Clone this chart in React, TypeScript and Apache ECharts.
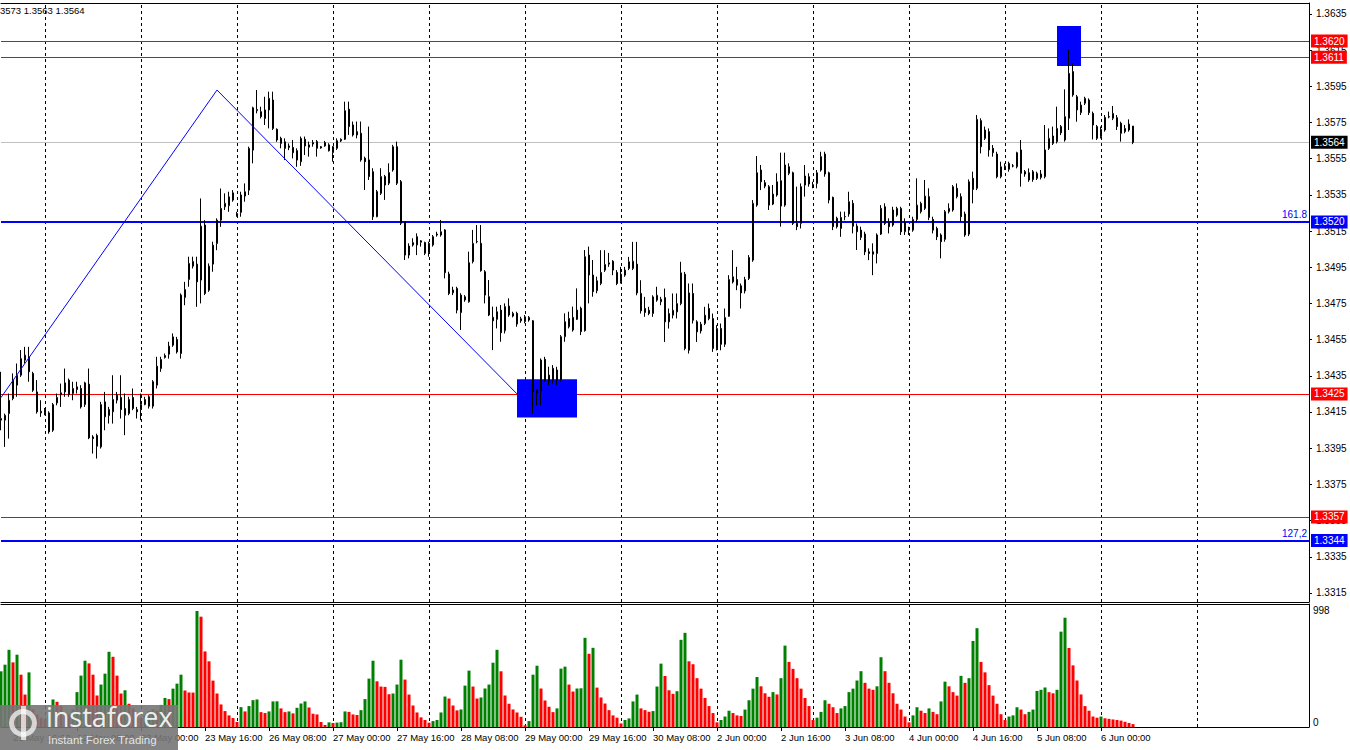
import React, { useEffect, useRef } from "react";
import * as echarts from "echarts";

// ---------- time axis ----------
const sessions: [string, number, number][] = [
  ["21 May", 13, 23], ["22 May", 0, 23], ["23 May", 0, 23], ["26 May", 0, 23], ["27 May", 0, 23],
  ["28 May", 0, 23], ["29 May", 0, 23], ["30 May", 0, 23], ["2 Jun", 0, 23], ["3 Jun", 0, 23],
  ["4 Jun", 0, 23], ["5 Jun", 0, 23], ["6 Jun", 0, 8],
];
const futureSessions: [string, number, number][] = [["6 Jun", 9, 23], ["9 Jun", 0, 23], ["10 Jun", 0, 4]];

const xTickLabels = [
  "21 May 16:00", "22 May 08:00", "23 May 00:00", "23 May 16:00", "26 May 08:00", "27 May 00:00",
  "27 May 16:00", "28 May 08:00", "29 May 00:00", "29 May 16:00", "30 May 08:00", "2 Jun 00:00",
  "2 Jun 16:00", "3 Jun 08:00", "4 Jun 00:00", "4 Jun 16:00", "5 Jun 08:00", "6 Jun 00:00",
];
const dayStartLines = [
  "22 May 00:00", "23 May 00:00", "26 May 00:00", "27 May 00:00", "28 May 00:00", "29 May 00:00",
  "30 May 00:00", "2 Jun 00:00", "3 Jun 00:00", "4 Jun 00:00", "5 Jun 00:00", "6 Jun 00:00", "9 Jun 00:00",
];

// ---------- price data: [open, high, low, close] ----------
const candles: number[][] = [
[1.34105,1.34372,1.34049,1.34114],[1.34105,1.34141,1.33957,1.34132],[1.34141,1.34252,1.34003,1.34215],
[1.34224,1.34363,1.34215,1.34326],[1.34298,1.34418,1.34234,1.34353],[1.34353,1.34492,1.34344,1.34445],
[1.34436,1.34510,1.34418,1.34464],[1.34455,1.34510,1.34317,1.34372],[1.34363,1.34372,1.34261,1.34270],
[1.34261,1.34326,1.34141,1.34151],[1.34145,1.34215,1.34123,1.34154],[1.34163,1.34172,1.34132,1.34145],
[1.34145,1.34154,1.34030,1.34040],[1.34049,1.34200,1.34040,1.34191],[1.34200,1.34252,1.34187,1.34230],
[1.34245,1.34307,1.34178,1.34256],[1.34261,1.34390,1.34234,1.34311],[1.34326,1.34335,1.34234,1.34246],
[1.34252,1.34317,1.34215,1.34280],[1.34274,1.34317,1.34252,1.34289],[1.34280,1.34298,1.34169,1.34178],
[1.34191,1.34317,1.34178,1.34311],[1.34304,1.34390,1.34000,1.34007],[1.34012,1.34022,1.33920,1.34003],
[1.34020,1.34030,1.33893,1.33961],[1.33957,1.34206,1.33948,1.34191],[1.34123,1.34261,1.34049,1.34206],
[1.34130,1.34178,1.34086,1.34164],[1.34151,1.34353,1.34086,1.34219],[1.34215,1.34261,1.34197,1.34243],
[1.34230,1.34353,1.34114,1.34163],[1.34169,1.34252,1.34022,1.34132],[1.34141,1.34234,1.34132,1.34219],
[1.34230,1.34280,1.34160,1.34169],[1.34163,1.34178,1.34114,1.34151],[1.34163,1.34252,1.34105,1.34191],
[1.34191,1.34234,1.34187,1.34219],[1.34234,1.34243,1.34169,1.34182],[1.34182,1.34326,1.34169,1.34317],
[1.34298,1.34455,1.34280,1.34403],[1.34390,1.34455,1.34372,1.34440],[1.34451,1.34473,1.34445,1.34462],
[1.34469,1.34538,1.34445,1.34514],[1.34519,1.34584,1.34510,1.34565],[1.34551,1.34565,1.34473,1.34482],
[1.34473,1.34805,1.34445,1.34796],[1.34783,1.34869,1.34740,1.34827],[1.34882,1.35008,1.34842,1.34971],
[1.34956,1.35008,1.34943,1.34982],[1.34967,1.35008,1.34731,1.34869],[1.34879,1.35330,1.34750,1.35177],
[1.35183,1.35210,1.34796,1.34805],[1.34823,1.34971,1.34814,1.34956],[1.34967,1.35091,1.34925,1.35072],
[1.35081,1.35220,1.35044,1.35210],[1.35210,1.35385,1.35173,1.35275],[1.35284,1.35358,1.35266,1.35303],
[1.35290,1.35367,1.35256,1.35339],[1.35321,1.35376,1.35312,1.35361],[1.35238,1.35256,1.35229,1.35247],
[1.35253,1.35367,1.35229,1.35349],[1.35343,1.35413,1.35312,1.35367],[1.35376,1.35616,1.35349,1.35607],
[1.35597,1.35837,1.35524,1.35831],[1.35815,1.35929,1.35800,1.35822],[1.35809,1.35837,1.35772,1.35782],
[1.35772,1.35892,1.35736,1.35819],[1.35819,1.35920,1.35717,1.35883],[1.35874,1.35920,1.35708,1.35717],
[1.35712,1.35717,1.35643,1.35653],[1.35662,1.35671,1.35607,1.35634],[1.35643,1.35662,1.35542,1.35607],
[1.35620,1.35634,1.35597,1.35612],[1.35612,1.35653,1.35551,1.35583],[1.35594,1.35607,1.35505,1.35542],
[1.35533,1.35672,1.35510,1.35662],[1.35657,1.35672,1.35570,1.35620],[1.35613,1.35644,1.35561,1.35626],
[1.35631,1.35653,1.35616,1.35639],[1.35644,1.35653,1.35561,1.35607],[1.35609,1.35620,1.35605,1.35616],
[1.35620,1.35648,1.35616,1.35639],[1.35626,1.35635,1.35589,1.35594],[1.35583,1.35620,1.35533,1.35616],
[1.35607,1.35662,1.35598,1.35649],[1.35648,1.35662,1.35642,1.35657],[1.35657,1.35865,1.35653,1.35815],
[1.35823,1.35865,1.35681,1.35727],[1.35736,1.35755,1.35672,1.35681],[1.35699,1.35755,1.35662,1.35681],
[1.35690,1.35755,1.35533,1.35543],[1.35552,1.35561,1.35377,1.35533],[1.35543,1.35727,1.35432,1.35451],
[1.35478,1.35497,1.35211,1.35229],[1.35229,1.35377,1.35226,1.35368],[1.35358,1.35497,1.35349,1.35451],
[1.35451,1.35460,1.35322,1.35404],[1.35414,1.35524,1.35404,1.35473],[1.35487,1.35626,1.35478,1.35616],
[1.35616,1.35644,1.35404,1.35414],[1.35423,1.35432,1.35183,1.35193],[1.35202,1.35202,1.34990,1.35017],
[1.35017,1.35082,1.34999,1.35067],[1.35073,1.35110,1.35064,1.35086],[1.35073,1.35137,1.35017,1.35119],
[1.35088,1.35100,1.35064,1.35096],[1.35086,1.35091,1.35017,1.35027],[1.35030,1.35091,1.35008,1.35082],
[1.35073,1.35128,1.35064,1.35119],[1.35128,1.35146,1.35119,1.35133],[1.35128,1.35211,1.35119,1.35146],
[1.35156,1.35160,1.34888,1.34920],[1.34912,1.34925,1.34796,1.34805],[1.34824,1.34842,1.34796,1.34809],
[1.34833,1.34842,1.34695,1.34713],[1.34699,1.34806,1.34603,1.34796],[1.34769,1.34796,1.34759,1.34787],
[1.34759,1.35036,1.34754,1.34975],[1.34981,1.35156,1.34971,1.35082],[1.35091,1.35183,1.35082,1.35092],
[1.35082,1.35183,1.34925,1.34931],[1.34925,1.34934,1.34750,1.34796],[1.34787,1.34879,1.34680,1.34686],
[1.34673,1.34732,1.34492,1.34654],[1.34662,1.34732,1.34612,1.34704],[1.34713,1.34741,1.34538,1.34588],
[1.34599,1.34750,1.34584,1.34732],[1.34735,1.34778,1.34676,1.34686],[1.34680,1.34704,1.34673,1.34695],
[1.34695,1.34704,1.34621,1.34636],[1.34654,1.34676,1.34643,1.34665],[1.34649,1.34686,1.34640,1.34676],
[1.34658,1.34680,1.34649,1.34673],[1.34654,1.34658,1.34142,1.34262],[1.34253,1.34275,1.34188,1.34275],
[1.34262,1.34446,1.34188,1.34437],[1.34441,1.34455,1.34317,1.34326],[1.34317,1.34400,1.34299,1.34354],
[1.34391,1.34409,1.34308,1.34326],[1.34382,1.34400,1.34299,1.34326],[1.34326,1.34575,1.34317,1.34566],
[1.34566,1.34695,1.34538,1.34649],[1.34621,1.34704,1.34612,1.34667],[1.34603,1.34732,1.34594,1.34673],
[1.34662,1.34833,1.34658,1.34713],[1.34723,1.34732,1.34575,1.34594],[1.34599,1.35045,1.34594,1.35008],
[1.35017,1.35064,1.34750,1.34907],[1.34907,1.34990,1.34787,1.34815],[1.34820,1.34898,1.34806,1.34875],
[1.34860,1.35044,1.34851,1.34921],[1.34934,1.35044,1.34924,1.34965],[1.34967,1.35029,1.34952,1.34974],
[1.34983,1.34989,1.34906,1.34934],[1.34921,1.34934,1.34851,1.34860],[1.34869,1.34952,1.34860,1.34912],
[1.34906,1.34952,1.34897,1.34934],[1.34943,1.35007,1.34934,1.34980],[1.34943,1.35090,1.34934,1.34983],
[1.34967,1.35090,1.34795,1.34808],[1.34805,1.34878,1.34694,1.34709],[1.34722,1.34786,1.34676,1.34700],
[1.34712,1.34731,1.34685,1.34694],[1.34694,1.34795,1.34676,1.34786],[1.34768,1.34842,1.34759,1.34795],
[1.34759,1.34786,1.34740,1.34773],[1.34782,1.34832,1.34537,1.34648],[1.34648,1.34722,1.34611,1.34694],
[1.34685,1.34805,1.34667,1.34712],[1.34703,1.34805,1.34667,1.34749],[1.34749,1.34980,1.34740,1.34919],
[1.34911,1.34924,1.34491,1.34501],[1.34491,1.34860,1.34473,1.34808],[1.34805,1.34860,1.34639,1.34657],
[1.34648,1.34657,1.34537,1.34593],[1.34598,1.34648,1.34584,1.34635],[1.34639,1.34731,1.34630,1.34685],
[1.34722,1.34749,1.34657,1.34666],[1.34666,1.34694,1.34482,1.34501],[1.34501,1.34630,1.34490,1.34611],
[1.34611,1.34639,1.34491,1.34524],[1.34524,1.34722,1.34510,1.34672],[1.34679,1.34906,1.34676,1.34882],
[1.34869,1.35044,1.34860,1.34897],[1.34882,1.34952,1.34823,1.34851],[1.34847,1.34860,1.34722,1.34808],
[1.34819,1.34897,1.34805,1.34882],[1.34888,1.35017,1.34879,1.35004],[1.34989,1.35321,1.34980,1.35303],
[1.35293,1.35564,1.35284,1.35472],[1.35487,1.35515,1.35376,1.35422],[1.35417,1.35432,1.35386,1.35398],
[1.35395,1.35404,1.35266,1.35293],[1.35299,1.35404,1.35293,1.35354],[1.35349,1.35469,1.35340,1.35422],
[1.35428,1.35583,1.35174,1.35288],[1.35293,1.35583,1.35284,1.35515],[1.35505,1.35524,1.35459,1.35469],
[1.35472,1.35478,1.35183,1.35192],[1.35192,1.35395,1.35155,1.35174],[1.35192,1.35413,1.35164,1.35395],
[1.35404,1.35515,1.35340,1.35454],[1.35450,1.35469,1.35395,1.35410],[1.35404,1.35422,1.35386,1.35406],
[1.35413,1.35487,1.35386,1.35472],[1.35487,1.35588,1.35478,1.35561],[1.35575,1.35588,1.35450,1.35465],
[1.35472,1.35478,1.35303,1.35321],[1.35336,1.35340,1.35155,1.35174],[1.35220,1.35229,1.35164,1.35174],
[1.35164,1.35257,1.35118,1.35225],[1.35229,1.35257,1.35210,1.35230],[1.35244,1.35367,1.35229,1.35312],
[1.35303,1.35321,1.35137,1.35177],[1.35177,1.35192,1.35045,1.35146],[1.35155,1.35174,1.35100,1.35115],
[1.35133,1.35146,1.35017,1.35035],[1.35035,1.35054,1.34989,1.35026],[1.35035,1.35082,1.34906,1.35022],
[1.35026,1.35137,1.34971,1.35128],[1.35133,1.35293,1.35128,1.35275],[1.35284,1.35303,1.35183,1.35192],
[1.35201,1.35220,1.35137,1.35174],[1.35183,1.35284,1.35174,1.35266],[1.35238,1.35284,1.35229,1.35275],
[1.35275,1.35284,1.35128,1.35146],[1.35146,1.35220,1.35128,1.35201],[1.35164,1.35174,1.35128,1.35155],
[1.35155,1.35229,1.35146,1.35214],[1.35214,1.35441,1.35201,1.35293],[1.35257,1.35312,1.35247,1.35303],
[1.35275,1.35432,1.35266,1.35343],[1.35340,1.35386,1.35210,1.35225],[1.35214,1.35229,1.35137,1.35155],
[1.35164,1.35174,1.35100,1.35118],[1.35128,1.35137,1.34999,1.35091],[1.35104,1.35266,1.35091,1.35257],
[1.35257,1.35303,1.35247,1.35275],[1.35266,1.35404,1.35257,1.35395],[1.35386,1.35413,1.35330,1.35340],
[1.35340,1.35358,1.35201,1.35229],[1.35244,1.35257,1.35118,1.35128],[1.35133,1.35435,1.35122,1.35422],
[1.35441,1.35478,1.35303,1.35380],[1.35386,1.35791,1.35376,1.35767],[1.35760,1.35773,1.35579,1.35616],
[1.35662,1.35727,1.35653,1.35708],[1.35699,1.35717,1.35561,1.35598],[1.35607,1.35625,1.35561,1.35583],
[1.35575,1.35588,1.35441,1.35450],[1.35450,1.35533,1.35441,1.35505],[1.35507,1.35524,1.35487,1.35509],
[1.35491,1.35533,1.35478,1.35524],[1.35509,1.35520,1.35502,1.35510],[1.35505,1.35588,1.35496,1.35583],
[1.35598,1.35653,1.35395,1.35469],[1.35478,1.35487,1.35450,1.35465],[1.35432,1.35496,1.35422,1.35472],
[1.35478,1.35487,1.35422,1.35435],[1.35441,1.35478,1.35432,1.35469],[1.35446,1.35487,1.35435,1.35465],
[1.35450,1.35736,1.35441,1.35598],[1.35607,1.35717,1.35598,1.35662],[1.35634,1.35727,1.35625,1.35675],
[1.35644,1.35837,1.35634,1.35717],[1.35727,1.35736,1.35680,1.35693],[1.35653,1.35933,1.35644,1.35782],
[1.35773,1.36154,1.35708,1.36021],[1.36031,1.36077,1.35892,1.35902],[1.35892,1.35902,1.35754,1.35819],
[1.35804,1.35865,1.35791,1.35846],[1.35856,1.35892,1.35846,1.35883],[1.35874,1.35883,1.35791,1.35804],
[1.35800,1.35810,1.35656,1.35736],[1.35727,1.35736,1.35653,1.35662],[1.35671,1.35727,1.35662,1.35712],
[1.35708,1.35791,1.35699,1.35778],[1.35780,1.35810,1.35773,1.35782],[1.35773,1.35841,1.35763,1.35800],
[1.35776,1.35791,1.35708,1.35727],[1.35745,1.35754,1.35644,1.35690],[1.35699,1.35736,1.35690,1.35717],
[1.35708,1.35767,1.35699,1.35741],[1.35730,1.35730,1.35630,1.35640],
];

const volumes: number[] = [
  479, 536, 664, 556, 622, 450, 279, 470, 151, 108,
  80, 66, 94, 237, 217, 180, 117, 108, 151, 300,
  442, 570, 547, 450, 271, 365, 459, 647, 604, 442,
  288, 316, 200, 160, 120, 80, 105, 137, 151, 140,
  190, 250, 240, 330, 373, 450, 314, 297, 296, 998,
  949, 650, 565, 399, 288, 194, 137, 100, 77, 43,
  171, 134, 180, 231, 237, 128, 120, 134, 220, 221,
  160, 128, 134, 117, 165, 202, 220, 168, 114, 108,
  43, 17, 40, 34, 38, 41, 134, 130, 108, 103,
  145, 240, 416, 570, 393, 348, 345, 282, 288, 365,
  579, 408, 279, 185, 125, 83, 60, 37, 51, 60,
  125, 262, 245, 185, 143, 151, 356, 485, 348, 245,
  254, 331, 365, 553, 664, 479, 271, 200, 151, 125,
  88, 14, 51, 450, 527, 331, 228, 174, 128, 160,
  502, 519, 365, 305, 331, 333, 767, 630, 681, 339,
  254, 202, 145, 100, 80, 31, 60, 74, 220, 279,
  160, 145, 131, 137, 348, 545, 439, 316, 285, 308,
  750, 810, 565, 540, 420, 330, 250, 180, 120, 40,
  60, 90, 140, 120, 100, 95, 150, 230, 330, 430,
  350, 290, 260, 300, 280, 420, 700, 560, 500, 420,
  330, 250, 180, 60, 80, 130, 230, 200, 170, 120,
  160, 180, 300, 330, 400, 480, 380, 330, 320, 350,
  600, 480, 380, 290, 200, 150, 90, 40, 100, 170,
  140, 120, 160, 130, 110, 220, 390, 350, 300, 270,
  440, 380, 420, 740, 850, 560, 470, 360, 270, 200,
  110, 60, 90, 100, 170, 150, 110, 130, 150, 310,
  320, 340, 300, 290, 320, 820, 940, 680, 530, 400,
  280, 180, 140, 90, 80, 90, 75, 70, 65, 60,
  55, 45, 35, 25,
];

// ---------- levels & objects ----------
const priceTicks = [1.3315, 1.3335, 1.3355, 1.3375, 1.3395, 1.3415, 1.3435, 1.3455, 1.3475, 1.3495,
  1.3515, 1.3535, 1.3555, 1.3575, 1.3595, 1.3615, 1.3635];
const volumeTicks = [0, 998];
const redLevels = [1.3620, 1.3611, 1.3425, 1.3357];
const blueLevels = [{ value: 1.3520, fib: "161.8" }, { value: 1.3344, fib: "127,2" }];
const bidPrice = 1.3564;
const zigzagPoints = [{ time: "21 May 13:00", price: 1.3423 }, { time: "23 May 19:00", price: 1.35929 }, { time: "28 May 22:00", price: 1.3425 }];
const boxes = [
  { from: "28 May 22:00", to: "29 May 13:00", top: 1.34331, bottom: 1.34119 },
  { from: "5 Jun 13:00", to: "5 Jun 19:00", top: 1.36283, bottom: 1.36062 },
];
const headerText = "3573 1.3563 1.3564";

const FONT = '"Liberation Sans", Arial, sans-serif';
const BLACK = "#000000";

export default function App() {
  const ref = useRef<HTMLDivElement>(null);
  useEffect(() => {
    if (!ref.current) return;
    const chart = echarts.init(ref.current, undefined, { renderer: "svg" });

    const categories: string[] = [];
    for (const [d, a, b] of [...sessions, ...futureSessions]) {
      for (let h = a; h <= b; h++) categories.push(`${d} ${String(h).padStart(2, "0")}:00`);
    }
    const tickSet = new Set(xTickLabels);

    const tag = (text: string, bg: string) => ({
      show: true, position: "end", formatter: text, backgroundColor: bg, color: "#ffffff",
      padding: [2, 3, 1, 3], distance: 2, fontSize: 10, fontFamily: FONT,
    });

    const levelLines: any[] = [];
    levelLines.push({ yAxis: bidPrice, lineStyle: { color: "#c0c0c0", width: 1, type: "solid" }, label: tag(bidPrice.toFixed(4), "#000000") });
    redLevels.forEach((v) => levelLines.push({ yAxis: v, lineStyle: { color: "#ff0000", width: 1, type: "solid" }, label: tag(v.toFixed(4), "#ff0000") }));
    blueLevels.forEach((b) => {
      levelLines.push({ yAxis: b.value, lineStyle: { color: "#0000ff", width: 2, type: "solid" }, label: tag(b.value.toFixed(4), "#0000ff") });
      levelLines.push({ yAxis: b.value, lineStyle: { color: "#0000ff", width: 2, type: "solid" },
        label: { show: true, position: "insideEndTop", formatter: b.fib, color: "#0000ff", distance: 2, fontSize: 10, fontFamily: FONT } });
    });

    const dayMarkLine = {
      silent: true, z: 1, symbol: ["none", "none"], label: { show: false }, precision: 6,
      lineStyle: { color: BLACK, width: 1, type: [3, 3] },
      data: dayStartLines.map((n) => ({ xAxis: n })),
    };

    const catAxis = (grid: number, pos: string, labels: boolean) => ({
      type: "category", gridIndex: grid, data: categories, boundaryGap: false, position: pos,
      axisLine: { show: true, lineStyle: { color: BLACK, width: 1 } },
      axisTick: labels
        ? { show: true, interval: (_i: number, v: string) => tickSet.has(v), length: 4, lineStyle: { color: BLACK } }
        : { show: false },
      axisLabel: labels
        ? { show: true, interval: (_i: number, v: string) => tickSet.has(v), align: "left", margin: 5, color: BLACK, fontSize: 9.5, fontFamily: FONT }
        : { show: false },
      splitLine: { show: false },
    });

    const option: any = {
      animation: false,
      backgroundColor: "#ffffff",
      grid: [
        { left: 1, right: 41, top: 3, height: 599 },
        { left: 1, right: 41, top: 604, height: 123 },
      ],
      xAxis: [catAxis(0, "bottom", false), catAxis(1, "bottom", true), catAxis(0, "top", false), catAxis(1, "top", false)],
      yAxis: [
        {
          type: "value", gridIndex: 0, position: "right", min: 1.331, max: 1.3641,
          axisLine: { show: true, lineStyle: { color: BLACK, width: 1 } },
          axisTick: { show: true, length: 3, inside: false, customValues: priceTicks, lineStyle: { color: BLACK } },
          axisLabel: { customValues: priceTicks, formatter: (v: number) => v.toFixed(4), margin: 7, color: BLACK, fontSize: 10, fontFamily: FONT },
          splitLine: { show: false },
        },
        {
          type: "value", gridIndex: 1, position: "right", min: 0, max: 1058,
          axisLine: { show: true, lineStyle: { color: BLACK, width: 1 } },
          axisTick: { show: false },
          axisLabel: {
            customValues: volumeTicks, margin: 4, color: BLACK, fontSize: 10, fontFamily: FONT,
            formatter: (v: number) => (v === 0 ? "{z|0}" : "{m|" + v + "}"),
            rich: { z: { padding: [0, 0, 9, 0], fontSize: 10, fontFamily: FONT, color: BLACK }, m: { fontSize: 10, fontFamily: FONT, color: BLACK } },
          },
          splitLine: { show: false },
        },
      ],
      series: [
        {
          type: "candlestick", xAxisIndex: 0, yAxisIndex: 0, z: 4, barWidth: 2, silent: true,
          data: candles.map(([o, h, l, c]) => [o, c, l, h]),
          itemStyle: { color: "#ffffff", color0: "#000000", borderColor: "#000000", borderColor0: "#000000", borderWidth: 1 },
          markLine: dayMarkLine,
          markArea: {
            silent: true, z: 3, precision: 6, itemStyle: { color: "#0000ff", opacity: 1, borderWidth: 0 },
            data: boxes.map((b) => [{ xAxis: b.from, yAxis: b.top }, { xAxis: b.to, yAxis: b.bottom }]),
          },
        },
        {
          type: "line", xAxisIndex: 0, yAxisIndex: 0, z: 5, silent: true, symbol: "none",
          data: zigzagPoints.map((p) => [p.time, p.price]),
          lineStyle: { color: "#0000ff", width: 1 },
          markLine: { silent: true, z: 2, precision: 6, symbol: ["none", "none"], data: levelLines },
        },
        {
          type: "bar", xAxisIndex: 1, yAxisIndex: 1, barWidth: 3, silent: true, z: 4,
          data: volumes.map((v, i) => ({ value: v, itemStyle: { color: i === 0 || v > volumes[i - 1] ? "#008000" : "#ff0000" } })),
          markLine: dayMarkLine,
        },
      ],
      graphic: [
        { type: "text", left: 0, top: 5, z: 50, style: { text: headerText, fill: BLACK, fontSize: 9.5, fontFamily: FONT } },
        { type: "rect", left: 0, top: 705, z: 100, shape: { width: 178, height: 45 }, style: { fill: "rgba(118,118,118,0.9)" } },
        { type: "ring", left: 9, top: 709, z: 101, shape: { r: 14, r0: 9 }, style: { fill: "rgba(255,255,255,0.7)" } },
        { type: "rect", left: 21, top: 706, z: 101, shape: { width: 5, height: 34 }, style: { fill: "rgba(255,255,255,0.7)" } },
        { type: "text", left: 46, top: 703, z: 102, style: { text: "instaforex", fill: "rgba(255,255,255,0.9)", fontSize: 27, fontFamily: '"Open Sans", sans-serif' } },
        { type: "text", left: 48, top: 734, z: 102, style: { text: "Instant Forex Trading", fill: "rgba(255,255,255,0.8)", fontSize: 11.5, fontFamily: FONT } },
      ],
    };
    chart.setOption(option);
    return () => chart.dispose();
  }, []);
  return <div ref={ref} style={{ position: "absolute", left: 0, top: 0, width: 1350, height: 750 }} />;
}
